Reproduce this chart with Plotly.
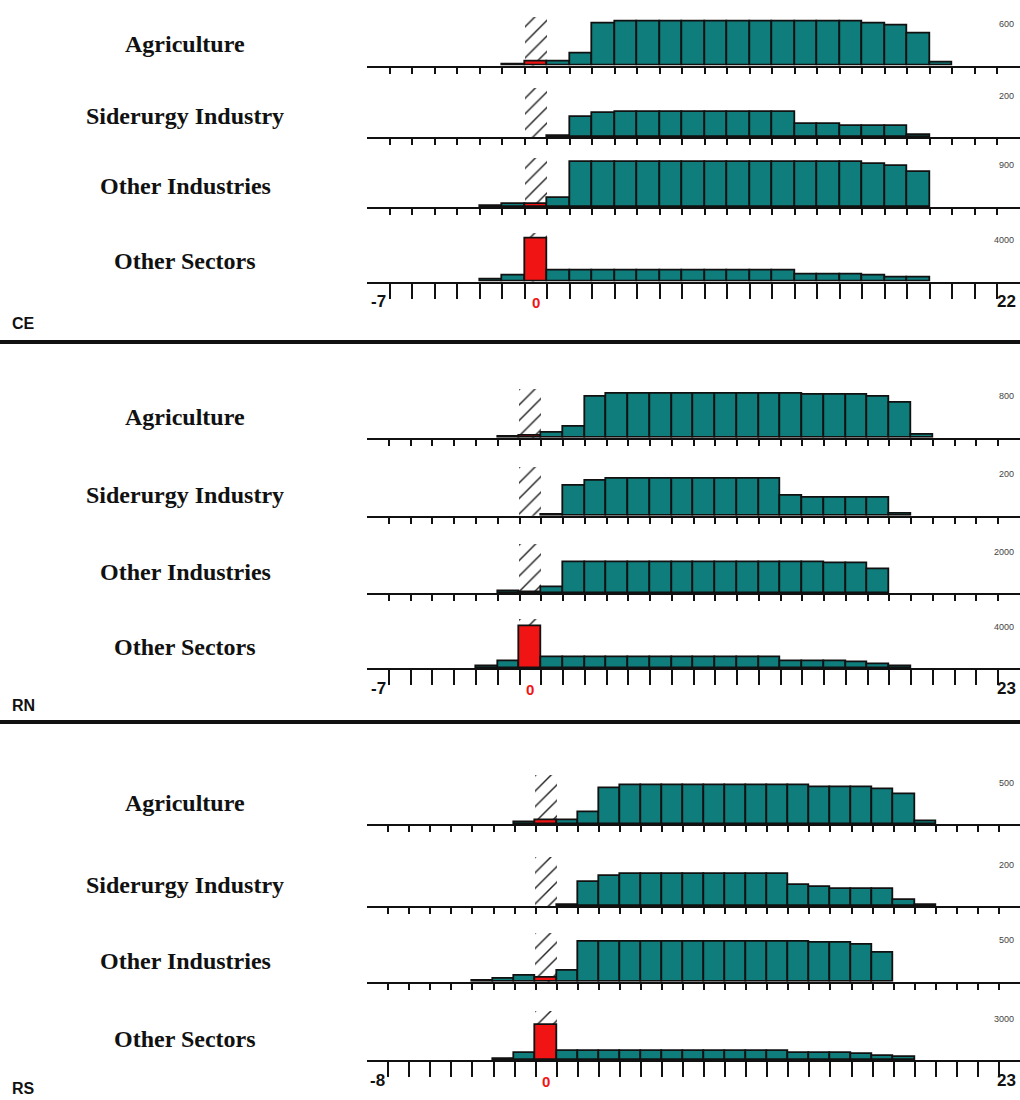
import plotly.graph_objects as go

# ---------------- DATA ----------------
ROW_NAMES = ["Agriculture", "Siderurgy Industry", "Other Industries", "Other Sectors"]
REGIONS = ["CE", "RN", "RS"]
EVENT_BIN = 0

CE_BINS = list(range(-7, 22))
RN_BINS = list(range(-7, 23))
RS_BINS = list(range(-8, 23))

CE_END_LABELS = ["-7", "22"]
RN_END_LABELS = ["-7", "23"]
RS_END_LABELS = ["-8", "23"]

CE_SCALE = [600, 200, 900, 4000]
RN_SCALE = [800, 200, 2000, 4000]
RS_SCALE = [500, 200, 500, 3000]

# CE, bins -7..21
CE_AGRICULTURE = [0, 0, 0, 0, 0, 0, 15, 60, 60, 180, 610, 635, 635, 635, 635, 635,
                  635, 635, 635, 635, 635, 635, 610, 585, 465, 45, 0, 0, 0]
CE_SIDERURGY = [0, 0, 0, 0, 0, 0, 0, 0, 5, 98, 114, 122, 122, 122, 122, 122,
                122, 122, 122, 65, 62, 54, 54, 54, 10, 0, 0, 0, 0]
CE_OTHER_IND = [0, 0, 0, 0, 0, 29, 73, 73, 204, 966, 966, 966, 966, 966, 966, 966,
                966, 966, 966, 966, 966, 966, 937, 893, 753, 0, 0, 0, 0]
CE_OTHER_SEC = [0, 0, 0, 0, 0, 163, 585, 4130, 1045, 1045, 1045, 1045, 1045, 1045, 1045, 1045,
                1045, 1045, 1045, 715, 715, 715, 585, 423, 423, 0, 0, 0, 0]

# RN, bins -7..22
RN_AGRICULTURE = [0, 0, 0, 0, 0, 0, 20, 45, 98, 215, 787, 853, 853, 853, 853, 853,
                  853, 853, 853, 853, 833, 833, 833, 787, 670, 52, 0, 0, 0, 0]
RN_SIDERURGY = [0, 0, 0, 0, 0, 0, 0, 0, 6, 146, 169, 179, 179, 179, 179, 179,
                179, 179, 179, 98, 89, 89, 89, 89, 11, 0, 0, 0, 0, 0]
RN_OTHER_IND = [0, 0, 0, 0, 0, 0, 81, 65, 293, 1496, 1496, 1496, 1496, 1496, 1496, 1496,
                1496, 1496, 1496, 1496, 1496, 1430, 1430, 1171, 0, 0, 0, 0, 0, 0]
RN_OTHER_SEC = [0, 0, 0, 0, 0, 163, 715, 4070, 1045, 1045, 1045, 1045, 1045, 1045, 1045, 1045,
                1045, 1045, 1045, 715, 715, 715, 585, 390, 228, 0, 0, 0, 0, 0]

# RS, bins -8..22
RS_AGRICULTURE = [0, 0, 0, 0, 0, 0, 0, 21, 52, 52, 143, 430, 472, 472, 472, 472,
                  472, 472, 472, 472, 472, 451, 451, 451, 427, 357, 33, 0, 0, 0, 0]
RS_SIDERURGY = [0, 0, 0, 0, 0, 0, 0, 0, 0, 5, 116, 146, 156, 156, 156, 156,
                156, 156, 156, 156, 99, 91, 83, 83, 83, 29, 6, 0, 0, 0, 0]
RS_OTHER_IND = [0, 0, 0, 0, 0, 12, 33, 73, 49, 134, 488, 488, 488, 488, 488, 488,
                488, 488, 488, 488, 488, 467, 467, 448, 354, 0, 0, 0, 0, 0, 0]
RS_OTHER_SEC = [0, 0, 0, 0, 0, 0, 73, 534, 2562, 659, 659, 659, 659, 659, 659, 659,
                659, 659, 659, 659, 490, 490, 490, 417, 315, 198, 0, 0, 0, 0, 0]

PANELS = [
    ("CE", CE_BINS, CE_SCALE, [CE_AGRICULTURE, CE_SIDERURGY, CE_OTHER_IND, CE_OTHER_SEC], CE_END_LABELS),
    ("RN", RN_BINS, RN_SCALE, [RN_AGRICULTURE, RN_SIDERURGY, RN_OTHER_IND, RN_OTHER_SEC], RN_END_LABELS),
    ("RS", RS_BINS, RS_SCALE, [RS_AGRICULTURE, RS_SIDERURGY, RS_OTHER_IND, RS_OTHER_SEC], RS_END_LABELS),
]

# ---------------- LAYOUT / STYLE ----------------
W, H = 1020, 1100
TEAL = "#0e7d7b"
RED = "#f01414"
INK = "#111111"
BASELINES = {"CE": [65.5, 137, 207, 281.5], "RN": [437.7, 515.7, 593.3, 668.3], "RS": [824.3, 906, 981.7, 1060]}
PANEL_LABEL_Y = {"CE": 323, "RN": 705, "RS": 1088}
SEPARATORS_Y = [342, 722]
DOMAIN_PX = 52.0
LABEL_PX = 41.5
HATCH_PX = 49.0
X_DOMAIN = [0.36, 1.0]


def py(px):
    return 1 - px / H


fig = go.Figure()
layout_axes = {}
annotations = []
shapes = []

k = 0
for region, bins, scale, series, ends in PANELS:
    for r in range(4):
        k += 1
        sfx = "" if k == 1 else str(k)
        base = BASELINES[region][r]
        V = scale[r]
        R = V * DOMAIN_PX / LABEL_PX

        # hatched reference region at event bin
        fig.add_trace(go.Bar(
            x=[EVENT_BIN], y=[V * HATCH_PX / LABEL_PX], width=1,
            marker=dict(color="rgba(0,0,0,0)", line=dict(width=0),
                        pattern=dict(shape="/", fgcolor="#222222", bgcolor="rgba(0,0,0,0)",
                                     size=11, solidity=0.13, fillmode="replace")),
            xaxis="x" + sfx, yaxis="y" + sfx, hoverinfo="skip", showlegend=False))

        vals = series[r]
        xs = [b for b, v in zip(bins, vals) if v > 0]
        ys = [v for v in vals if v > 0]
        cols = [RED if b == EVENT_BIN else TEAL for b in xs]
        fig.add_trace(go.Bar(
            x=xs, y=ys, width=1,
            marker=dict(color=cols, line=dict(color=INK, width=1.8)),
            xaxis="x" + sfx, yaxis="y" + sfx, showlegend=False))

        bottom = (r == 3)
        layout_axes["xaxis" + sfx] = dict(
            domain=X_DOMAIN, range=[bins[0] - 0.5, bins[-1] + 0.5], anchor="y" + sfx,
            showgrid=False, zeroline=False, showline=True, linecolor=INK, linewidth=2,
            ticks="outside", ticklen=15 if bottom else 6, tickwidth=2, tickcolor=INK,
            tickvals=[b + 0.5 for b in bins[:-1]], showticklabels=False, fixedrange=True)
        layout_axes["yaxis" + sfx] = dict(
            domain=[py(base), py(base - DOMAIN_PX)], range=[0, R], anchor="x" + sfx,
            visible=False, fixedrange=True)

        # row label
        annotations.append(dict(
            x=185 / W, y=py(base - 21), xref="paper", yref="paper", showarrow=False,
            text="<b>" + ROW_NAMES[r] + "</b>", xanchor="center", yanchor="middle",
            font=dict(family="Liberation Serif", size=24, color=INK)))
        # scale label
        annotations.append(dict(
            x=1.0, y=V, xref="paper", yref="y" + sfx, showarrow=False, text=str(V),
            xanchor="right", yanchor="middle", xshift=-4,
            font=dict(family="Liberation Sans", size=9, color="#444444")))

        if bottom:
            annotations.append(dict(
                x=bins[0], y=py(base + 20), xref="x" + sfx, yref="paper", showarrow=False,
                text="<b>" + ends[0] + "</b>", xanchor="center", yanchor="middle",
                font=dict(family="Liberation Sans", size=17, color=INK)))
            annotations.append(dict(
                x=1.0, y=py(base + 20), xref="paper", yref="paper", showarrow=False,
                text="<b>" + ends[1] + "</b>", xanchor="right", yanchor="middle", xshift=-2,
                font=dict(family="Liberation Sans", size=17, color=INK)))
            annotations.append(dict(
                x=EVENT_BIN, y=py(base + 21), xref="x" + sfx, yref="paper", showarrow=False,
                text="<b>0</b>", xanchor="center", yanchor="middle",
                font=dict(family="Liberation Sans", size=15, color=RED)))

    annotations.append(dict(
        x=10 / W, y=py(PANEL_LABEL_Y[region]), xref="paper", yref="paper", showarrow=False,
        text="<b>" + region + "</b>", xanchor="left", yanchor="middle",
        font=dict(family="Liberation Sans", size=16, color=INK)))

for sy in SEPARATORS_Y:
    shapes.append(dict(type="line", xref="paper", yref="paper", x0=0, x1=1,
                       y0=py(sy), y1=py(sy), line=dict(color=INK, width=4)))

fig.update_layout(
    width=W, height=H, margin=dict(l=0, r=0, t=0, b=0),
    paper_bgcolor="white", plot_bgcolor="rgba(0,0,0,0)",
    barmode="overlay", bargap=0, showlegend=False,
    annotations=annotations, shapes=shapes, **layout_axes)

fig.write_html("out.html")
